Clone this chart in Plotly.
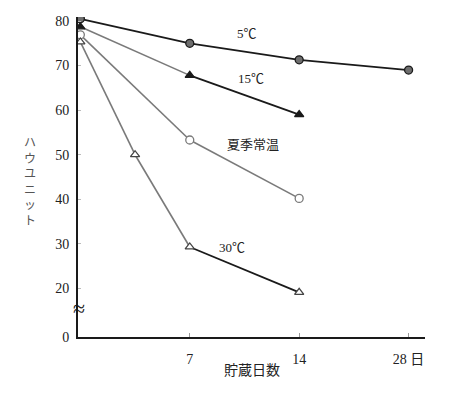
import plotly.graph_objects as go

# ---- data ----
days_5 = [0, 7, 14, 28]
hu_5 = [80.5, 75, 71.3, 69]
days_15 = [0, 7, 14]
hu_15 = [78.7, 67.8, 59]
days_summer = [0, 7, 14]
hu_summer = [76.9, 53.3, 40.2]
days_30 = [0, 3.5, 7, 14]
hu_30 = [75.3, 50, 29.3, 19.1]

series_names = ["5℃", "15℃", "夏季常温", "30℃"]
x_tick_days = [7, 14, 28]
x_tick_text = ["7", "14", "28 日"]
y_tick_values = [0, 20, 30, 40, 50, 60, 70, 80]

BLACK = "#1a1a1a"
GRAY = "#7a7a7a"

# broken axes: x after 14 days is compressed (28 d drawn at 21), y below ~18 is cut
def xpos(d):
    return d if d <= 14 else 14 + (d - 14) / 2

Y_ZERO_POS = 9.1
def ypos(v):
    return Y_ZERO_POS if v == 0 else v

series = [
    dict(name=series_names[0], d=days_5, v=hu_5, seg=[BLACK, BLACK, BLACK],
         sym="circle", fill="#6e6e6e", edge=BLACK),
    dict(name=series_names[1], d=days_15, v=hu_15, seg=[GRAY, BLACK],
         sym="triangle-up", fill=BLACK, edge=BLACK),
    dict(name=series_names[2], d=days_summer, v=hu_summer, seg=[GRAY, GRAY],
         sym="circle", fill="white", edge=GRAY),
    dict(name=series_names[3], d=days_30, v=hu_30, seg=[GRAY, GRAY, BLACK],
         sym="triangle-up", fill="white", edge="#444444"),
]

fig = go.Figure()
for s in series:
    xs = [xpos(d) for d in s["d"]]
    ys = [ypos(v) for v in s["v"]]
    for i, c in enumerate(s["seg"]):
        fig.add_trace(go.Scatter(x=xs[i:i + 2], y=ys[i:i + 2], mode="lines",
                                 line=dict(color=c, width=1.8 if c == BLACK else 1.6),
                                 showlegend=False, hoverinfo="skip"))
for s in series:
    fig.add_trace(go.Scatter(x=[xpos(d) for d in s["d"]], y=[ypos(v) for v in s["v"]],
                             mode="markers", name=s["name"], showlegend=False,
                             marker=dict(symbol=s["sym"], size=8, color=s["fill"],
                                         line=dict(color=s["edge"], width=1.3))))

serif = "Liberation Serif, Times New Roman, serif"
cjk = "Noto Sans CJK JP, sans-serif"

fig.update_xaxes(range=[-0.15, 22.05], tickvals=[xpos(d) for d in x_tick_days],
                 ticktext=x_tick_text, showgrid=False, zeroline=False,
                 showline=True, linecolor=BLACK, linewidth=2,
                 ticks="inside", ticklen=4, tickcolor="#999", tickwidth=1,
                 tickfont=dict(family=serif + ", " + cjk, size=14, color="#222"),
                 ticklabelstandoff=8)
fig.update_yaxes(range=[Y_ZERO_POS, 80.9], tickvals=[ypos(v) for v in y_tick_values],
                 ticktext=[str(v) for v in y_tick_values], showgrid=False, zeroline=False,
                 showline=True, linecolor=BLACK, linewidth=2,
                 ticks="inside", ticklen=3, tickcolor="#bbb", tickwidth=1,
                 tickfont=dict(family=serif, size=14, color="#222"),
                 ticklabelstandoff=4)

label_pos = [(0.487, 0.978), (0.499, 0.839), (0.504, 0.601), (0.444, 0.251)]
annotations = []
for name, (ax, ay) in zip(series_names, label_pos):
    annotations.append(dict(x=ax, y=ay, xref="paper", yref="paper", text=name,
                            showarrow=False, font=dict(family=serif + ", " + cjk,
                                                       size=13, color="#222")))
annotations.append(dict(x=-0.02, y=0.045, xref="paper", yref="paper", text="≈",
                        showarrow=False, font=dict(family=serif, size=22, color=BLACK)))
annotations.append(dict(x=0.501, y=-0.139, xref="paper", yref="paper", text="貯蔵日数",
                        showarrow=False, font=dict(family=cjk, size=14, color="#222")))
annotations.append(dict(x=-0.16, y=0.489, xref="paper", yref="paper",
                        text="ハ<br>ウ<br>ユ<br>ニ<br>ッ<br>ト",
                        showarrow=False, font=dict(family=cjk, size=12, color="#555")))

# page body has an 8px margin, so the figure is drawn 8px smaller and shifted
fig.update_layout(width=459, height=391, margin=dict(l=70, r=42, t=6, b=62),
                  plot_bgcolor="white", paper_bgcolor="white",
                  annotations=annotations, showlegend=False)

fig.write_html("out.html")
